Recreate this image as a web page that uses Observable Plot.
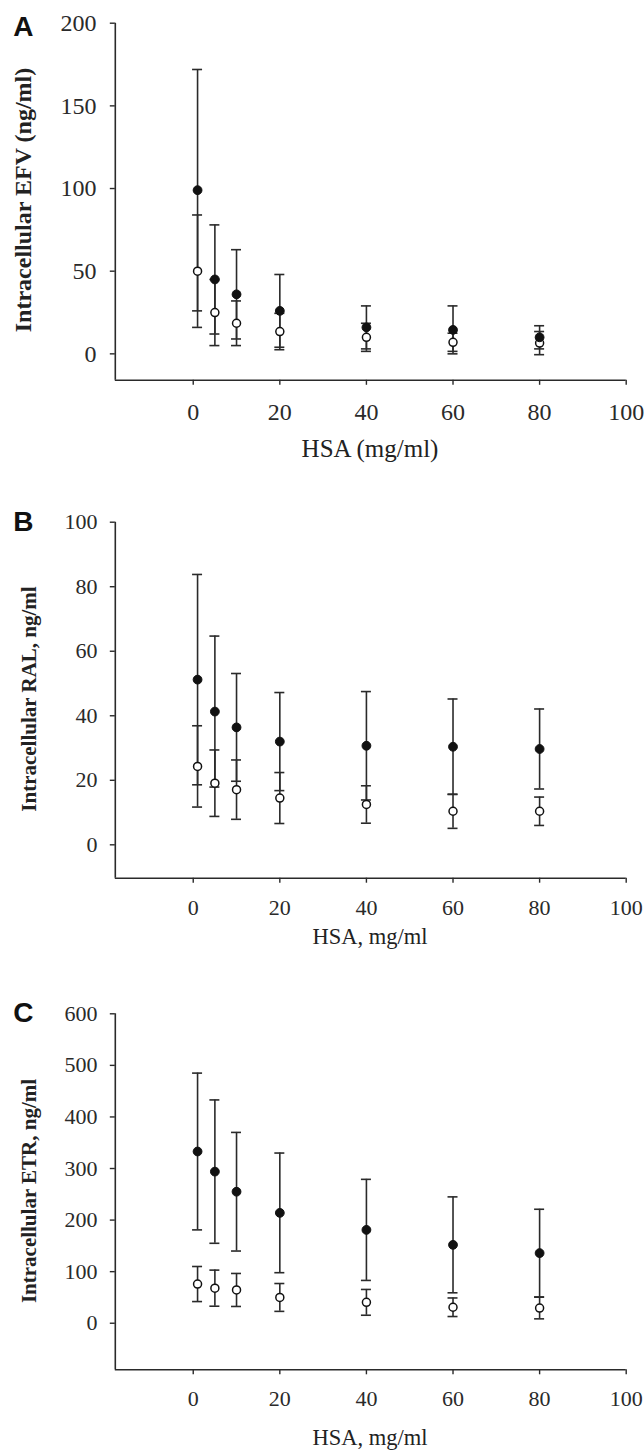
<!DOCTYPE html>
<html><head><meta charset="utf-8">
<script src="https://cdn.jsdelivr.net/npm/d3@7"></script>
<script src="https://cdn.jsdelivr.net/npm/@observablehq/plot@0.6"></script>
<style>
body{margin:0;background:#fff;}
#root{position:relative;width:644px;height:1450px;overflow:hidden;background:#fff;font-family:"Liberation Serif","Times New Roman",serif;color:#222;}
.lbl{position:absolute;white-space:nowrap;line-height:1;transform:translate(-50%,-50%);}
.rot{transform:translate(-50%,-50%) rotate(-90deg);font-weight:bold;}
.letter{font-family:"Liberation Sans",Arial,sans-serif;font-weight:bold;}
.panel{position:absolute;left:0;}
</style></head><body><div id="root"></div>
<script>
// ---- data ----
const hsa = [1, 5, 10, 20, 40, 60, 80];
const xTicks = [0, 20, 40, 60, 80, 100];

const efvFilledMean = [99, 45, 36, 26, 16, 14.5, 10];
const efvFilledSd   = [73, 33, 27, 22, 13, 14.5, 7];
const efvOpenMean   = [50, 25, 18.5, 13.5, 10, 7, 6.5];
const efvOpenSd     = [34, 20, 13.5, 11, 8.5, 5.5, 7];
const efvTicks = [0, 50, 100, 150, 200];

const ralFilledMean = [51.2, 41.3, 36.4, 32, 30.7, 30.4, 29.7];
const ralFilledSd   = [32.6, 23.4, 16.7, 15.2, 16.8, 14.8, 12.4];
const ralOpenMean   = [24.3, 19.1, 17.1, 14.5, 12.5, 10.4, 10.4];
const ralOpenSd     = [12.6, 10.3, 9.2, 7.9, 5.8, 5.3, 4.4];
const ralTicks = [0, 20, 40, 60, 80, 100];

const etrFilledMean = [333, 294, 255, 214, 181, 152, 136];
const etrFilledSd   = [152, 139, 115, 116, 98, 93, 85];
const etrOpenMean   = [76, 68, 64.5, 50, 40.5, 31, 29.5];
const etrOpenSd     = [34, 35, 32, 27, 25, 18, 21];
const etrTicks = [0, 100, 200, 300, 400, 500, 600];

const panelLetters = ["A", "B", "C"];
const yLabels = ["Intracellular EFV (ng/ml)", "Intracellular RAL, ng/ml", "Intracellular ETR, ng/ml"];
const xLabels = ["HSA (mg/ml)", "HSA, mg/ml", "HSA, mg/ml"];

// ---- layout ----
const panels = [
  {filledMean: efvFilledMean, filledSd: efvFilledSd, openMean: efvOpenMean, openSd: efvOpenSd, yTicks: efvTicks,
   yDomain: [-16, 200], top: 0, height: 440, mt: 22.7, mb: 60.2, font: 24, ytp: 13.8, xtp: 17.8,
   letterPos: [23.3, 27], letterSize: 28, yl: [22.6, 200, 24], xl: [370, 448.3, 25]},
  {filledMean: ralFilledMean, filledSd: ralFilledSd, openMean: ralOpenMean, openSd: ralOpenSd, yTicks: ralTicks,
   yDomain: [-10.35, 100], top: 480, height: 480, mt: 41.7, mb: 82.3, font: 22, ytp: 12.8, xtp: 16.6,
   letterPos: [23.3, 522], letterSize: 28, yl: [28.7, 698.5, 21], xl: [370, 936.7, 22.5]},
  {filledMean: etrFilledMean, filledSd: etrFilledSd, openMean: etrOpenMean, openSd: etrOpenSd, yTicks: etrTicks,
   yDomain: [-90.3, 600], top: 960, height: 490, mt: 53.3, mb: 80.7, font: 22, ytp: 12.8, xtp: 15.3,
   letterPos: [23.3, 1013], letterSize: 28, yl: [28.7, 1191, 21], xl: [370, 1438, 22.5]}
];

const root = document.getElementById("root");
const ink = "#2a2a2a";

panels.forEach((p, k) => {
  const filled = hsa.map((x, i) => ({x, mean: p.filledMean[i], sd: p.filledSd[i]}));
  const open = hsa.map((x, i) => ({x, mean: p.openMean[i], sd: p.openSd[i]}));
  const bars = (data) => [
    Plot.ruleX(data, {x: "x", y1: d => d.mean - d.sd, y2: d => d.mean + d.sd, stroke: ink, strokeWidth: 1.6}),
    Plot.ruleY(data, {y: d => d.mean + d.sd, x1: "x", x2: "x", insetLeft: -5, insetRight: -5, stroke: ink, strokeWidth: 1.6}),
    Plot.ruleY(data, {y: d => d.mean - d.sd, x1: "x", x2: "x", insetLeft: -5, insetRight: -5, stroke: ink, strokeWidth: 1.6})
  ];
  const chart = Plot.plot({
    width: 644,
    height: p.height,
    marginLeft: 114.8,
    marginRight: 18.3,
    marginTop: p.mt,
    marginBottom: p.mb,
    x: {domain: [-18, 100]},
    y: {domain: p.yDomain},
    style: {fontFamily: "'Liberation Serif', 'Times New Roman', serif", fontSize: p.font + "px", color: ink, background: "transparent", overflow: "visible"},
    marks: [
      Plot.axisY({ticks: p.yTicks, tickSize: 5, tickPadding: p.ytp, label: null, stroke: ink, strokeWidth: 1.4, fill: ink, fontSize: p.font}),
      Plot.axisX({ticks: xTicks, tickSize: 5, tickPadding: p.xtp, label: null, stroke: ink, strokeWidth: 1.4, fill: ink, fontSize: p.font}),
      Plot.ruleX([-18], {stroke: ink, strokeWidth: 1.6}),
      Plot.ruleY([p.yDomain[0]], {stroke: ink, strokeWidth: 1.6}),
      ...bars(open),
      ...bars(filled),
      Plot.dot(open, {x: "x", y: "mean", r: 4, fill: "white", stroke: "#111", strokeWidth: 1.5}),
      Plot.dot(filled, {x: "x", y: "mean", r: 4.4, fill: "#111", stroke: "#111", strokeWidth: 1})
    ]
  });
  chart.classList.add("panel");
  chart.style.top = p.top + "px";
  chart.style.left = "0px";
  chart.style.position = "absolute";
  chart.style.maxWidth = "none";
  root.appendChild(chart);

  const L = document.createElement("div");
  L.className = "lbl letter";
  L.textContent = panelLetters[k];
  L.style.left = p.letterPos[0] + "px";
  L.style.top = p.letterPos[1] + "px";
  L.style.fontSize = p.letterSize + "px";
  L.style.color = "#111";
  root.appendChild(L);

  const Y = document.createElement("div");
  Y.className = "lbl rot";
  Y.textContent = yLabels[k];
  Y.style.left = p.yl[0] + "px";
  Y.style.top = p.yl[1] + "px";
  Y.style.fontSize = p.yl[2] + "px";
  root.appendChild(Y);

  const X = document.createElement("div");
  X.className = "lbl";
  X.textContent = xLabels[k];
  X.style.left = p.xl[0] + "px";
  X.style.top = p.xl[1] + "px";
  X.style.fontSize = p.xl[2] + "px";
  root.appendChild(X);
});
</script>
</body></html>
